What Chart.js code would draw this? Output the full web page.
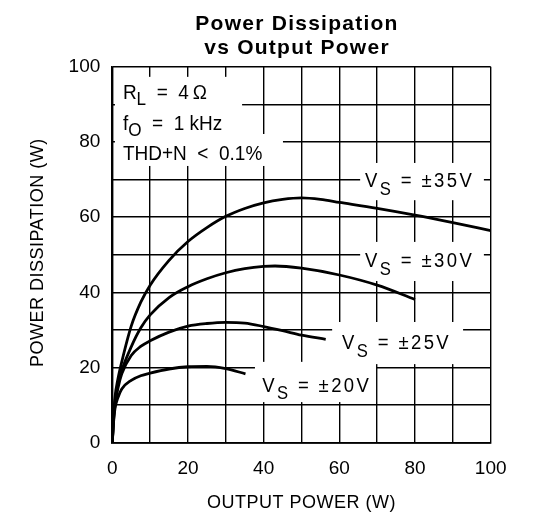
<!DOCTYPE html>
<html>
<head>
<meta charset="utf-8">
<script src="https://cdn.jsdelivr.net/npm/chart.js@4"></script>
<style>
  html, body { margin: 0; padding: 0; background: #fff; }
  #wrap { width: 545px; height: 526px; }
</style>
</head>
<body>
<div id="wrap"><canvas id="c" width="545" height="526"></canvas></div>
<script>
// ---- data ----
const outputPower20 = [0, 0.3, 0.7, 1.5, 2.5, 5, 7.5, 10, 15, 20, 25, 30, 35.2];
const dissipation20 = [0, 5, 9, 12, 14.3, 16.6, 17.8, 18.5, 19.6, 20.2, 20.3, 19.7, 18.3];

const outputPower25 = [0, 0.3, 0.7, 1.5, 2.5, 5, 7.5, 10, 15, 20, 25, 30, 35, 40, 45, 50, 56.4];
const dissipation25 = [0, 5.5, 10, 14.5, 18.3, 23.2, 25.6, 27.1, 29.4, 31, 31.7, 32, 31.8, 30.9, 29.8, 28.6, 27.5];

const outputPower30 = [0, 0.3, 0.7, 1.5, 2.5, 5, 7.5, 10, 15, 20, 25, 30, 35, 40, 43, 50, 60, 70, 80];
const dissipation30 = [0, 6, 11, 15.5, 19.2, 25.5, 30.5, 34, 38.6, 41.5, 43.6, 45.2, 46.3, 46.9, 47, 46.4, 44.6, 41.9, 38.1];

const outputPower35 = [0, 0.3, 0.7, 1.5, 2.5, 5, 7.5, 10, 15, 20, 25, 30, 35, 40, 45, 50, 55, 60, 70, 80, 90, 100];
const dissipation35 = [0, 6.5, 12, 17, 21.5, 31, 37.3, 41.9, 48.5, 53.5, 57.2, 60.2, 62.3, 63.8, 64.7, 65.1, 64.7, 63.9, 62.3, 60.5, 58.5, 56.4];

const xTickLabels = ['0', '20', '40', '60', '80', '100'];
const yTickLabels = ['0', '20', '40', '60', '80', '100'];

const titleLines = ['Power Dissipation', 'vs Output Power'];
const xTitle = 'OUTPUT POWER (W)';
const yTitle = 'POWER DISSIPATION (W)';

// ---- helpers ----
function zip(xs, ys) { return xs.map((x, i) => ({ x: x, y: ys[i] })); }

const FONT = '"Liberation Sans", Arial, sans-serif';

function drawParts(ctx, parts, x, y, opt) {
  ctx.save();
  ctx.fillStyle = '#000';
  ctx.textBaseline = 'alphabetic';
  ctx.textAlign = 'left';
  ctx.letterSpacing = (opt.ls || 0) + 'px';
  const sx = opt.sx || 1;
  let cx = x;
  for (const p of parts) {
    const size = p.sub ? opt.size * opt.subScale : opt.size;
    ctx.font = size + 'px ' + FONT;
    const dy = p.sub ? opt.subDy : 0;
    ctx.save();
    ctx.translate(cx, y + dy);
    ctx.scale(sx, 1);
    ctx.fillText(p.t, 0, 0);
    ctx.restore();
    cx += ctx.measureText(p.t).width * sx;
  }
  ctx.restore();
}

// annotation boxes / labels in data units
const notes = [
  { box: [0.7, 34.3, 97.3, 89.4], at: [2.8, 91.4], parts: [{t:'R'}, {t:'L', sub:true}, {t:'  =  4\u2009\u03A9'}], kind: 'cond' },
  { box: [0.7, 39.6, 89.6, 82.1], at: [2.8, 83.1], parts: [{t:'f'}, {t:'O', sub:true}, {t:'  =  1 kHz'}], kind: 'cond' },
  { box: [0.7, 45.1, 82.1, 73.6], at: [2.8, 75.1], parts: [{t:'THD+N  <  0.1%'}], kind: 'cond' },
  { box: [65.5, 98.2, 74.4, 64.5], at: [66.8, 68.0], parts: [{t:'V'}, {t:'S', sub:true}, {t:' = \u00B135V'}], kind: 'vs' },
  { box: [65.5, 98.2, 53.4, 43.0], at: [66.8, 46.7], parts: [{t:'V'}, {t:'S', sub:true}, {t:' = \u00B130V'}], kind: 'vs' },
  { box: [58.1, 92.7, 32.1, 20.9], at: [60.7, 24.9], parts: [{t:'V'}, {t:'S', sub:true}, {t:' = \u00B125V'}], kind: 'vs' },
  { box: [37.7, 69.7, 21.5, 10.8], at: [39.6, 13.5], parts: [{t:'V'}, {t:'S', sub:true}, {t:' = \u00B120V'}], kind: 'vs' }
];

const notesPlugin = {
  id: 'notes',
  beforeDatasetsDraw(chart) {
    const ctx = chart.ctx;
    const xs = chart.scales.x, ys = chart.scales.y;
    ctx.save();
    ctx.fillStyle = '#fff';
    for (const n of notes) {
      const x0 = xs.getPixelForValue(n.box[0]), x1 = xs.getPixelForValue(n.box[1]);
      const y0 = ys.getPixelForValue(n.box[2]), y1 = ys.getPixelForValue(n.box[3]);
      ctx.fillRect(x0, y0, x1 - x0, y1 - y0);
    }
    ctx.restore();
    for (const n of notes) {
      const px = xs.getPixelForValue(n.at[0]), py = ys.getPixelForValue(n.at[1]);
      if (n.kind === 'cond') {
        drawParts(ctx, n.parts, px, py, { size: 20, sx: 0.95, ls: 0, subScale: 0.9, subDy: 6 });
      } else {
        drawParts(ctx, n.parts, px, py, { size: 19.5, sx: 0.95, ls: 2.5, subScale: 0.9, subDy: 7.5 });
      }
    }
  },
  afterDraw(chart) {
    const ctx = chart.ctx;
    const area = chart.chartArea;
    ctx.save();
    ctx.fillStyle = '#000';
    // title
    ctx.font = 'bold 21px ' + FONT;
    ctx.letterSpacing = '1.25px';
    ctx.textAlign = 'center';
    ctx.textBaseline = 'alphabetic';
    ctx.fillText(titleLines[0], 297, 29.6);
    ctx.fillText(titleLines[1], 297, 54);
    // x title
    ctx.font = '18px ' + FONT;
    ctx.letterSpacing = '0.5px';
    ctx.fillText(xTitle, (area.left + area.right) / 2, 508);
    // y title
    ctx.save();
    ctx.translate(43, (area.top + area.bottom) / 2 - 2);
    ctx.rotate(-Math.PI / 2);
    ctx.fillText(yTitle, 0, 0);
    ctx.restore();
    ctx.restore();
  }
};

const lineStyle = {
  showLine: true,
  borderColor: '#000',
  backgroundColor: '#000',
  borderWidth: 2.8,
  pointRadius: 0,
  pointHoverRadius: 0,
  cubicInterpolationMode: 'monotone',
  fill: false
};

new Chart(document.getElementById('c'), {
  type: 'scatter',
  data: {
    datasets: [
      Object.assign({ label: 'VS = ±20V', data: zip(outputPower20, dissipation20) }, lineStyle),
      Object.assign({ label: 'VS = ±25V', data: zip(outputPower25, dissipation25) }, lineStyle),
      Object.assign({ label: 'VS = ±30V', data: zip(outputPower30, dissipation30) }, lineStyle),
      Object.assign({ label: 'VS = ±35V', data: zip(outputPower35, dissipation35) }, lineStyle)
    ]
  },
  options: {
    responsive: false,
    animation: false,
    devicePixelRatio: 1,
    events: [],
    layout: { padding: { left: 0, right: 54.3, top: 66.7, bottom: 0 } },
    plugins: { legend: { display: false }, title: { display: false }, tooltip: { enabled: false } },
    scales: {
      x: {
        type: 'linear', min: 0, max: 100,
        afterFit(scale) { scale.height = 83.3; },
        grid: { color: '#000', lineWidth: 1.4, drawTicks: false },
        border: { display: true, color: '#000', width: 1.8 },
        ticks: {
          stepSize: 10, autoSkip: false, maxRotation: 0, padding: 15,
          color: '#000', font: { family: FONT, size: 19 },
          callback(v) { const i = xTickLabels.indexOf(String(v)); return i >= 0 ? xTickLabels[i] : ''; }
        }
      },
      y: {
        type: 'linear', min: 0, max: 100,
        afterFit(scale) { scale.width = 112.3; },
        grid: { color: '#000', lineWidth: 1.4, drawTicks: false },
        border: { display: true, color: '#000', width: 1.8 },
        ticks: {
          stepSize: 10, autoSkip: false, padding: 12,
          color: '#000', font: { family: FONT, size: 19 },
          callback(v) { const i = yTickLabels.indexOf(String(v)); return i >= 0 ? yTickLabels[i] : ''; }
        }
      }
    }
  },
  plugins: [notesPlugin]
});
</script>
</body>
</html>
